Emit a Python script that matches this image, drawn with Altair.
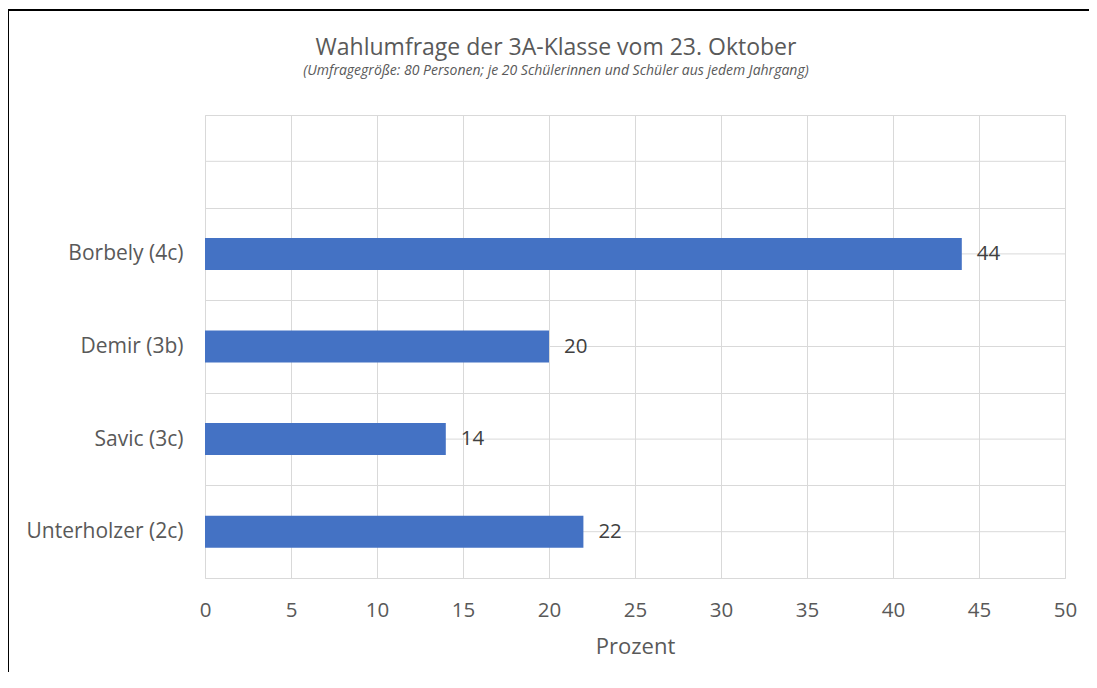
import altair as alt
import pandas as pd

categories = ["Borbely (4c)", "Demir (3b)", "Savic (3c)", "Unterholzer (2c)"]
values = [44, 20, 14, 22]
slots = [" "] + categories  # leading empty category slot at top
x_ticks = [0, 5, 10, 15, 20, 25, 30, 35, 40, 45, 50]

title_text = "Wahlumfrage der 3A-Klasse vom 23. Oktober"
subtitle_text = "(Umfragegröße: 80 Personen; je 20 Schülerinnen und Schüler aus jedem Jahrgang)"

df = pd.DataFrame({"Kandidat": categories, "Prozent": values})
slot_df = pd.DataFrame({"Kandidat": slots})

FONT = "Open Sans"
GRID = "#D9D9D9"

yscale = alt.Scale(domain=slots, paddingInner=0, paddingOuter=0)
xscale = alt.Scale(domain=[0, 50], nice=False)

y_axis = alt.Axis(
    title=None, domain=False, ticks=False, tickSize=0, grid=True, tickBand="extent",
    gridColor=GRID, gridWidth=1, labelFont=FONT, labelFontSize=21,
    labelColor="#595959", labelPadding=22, labelBaseline="middle",
)
x_axis = alt.Axis(
    title="Prozent", values=x_ticks, domain=False, ticks=False, tickSize=0,
    grid=True, gridColor=GRID, gridWidth=1, labelFont=FONT, labelFontSize=20.5,
    labelColor="#595959", labelPadding=22, labelFlush=False, titleFont=FONT,
    titleFontSize=22, titleFontWeight="normal", titleColor="#595959", titlePadding=16,
)

frame = alt.Chart(alt.Data(values=[{"f": 1}])).mark_rect(
    filled=False, stroke="black", strokeWidth=2
).encode(
    x=alt.value(-197), x2=alt.value(1200), y=alt.value(-105), y2=alt.value(800)
)

center_rules = alt.Chart(slot_df).mark_rule(color=GRID, strokeWidth=1).encode(
    y=alt.Y("Kandidat:N", scale=yscale, sort=slots, axis=y_axis)
)

bars = alt.Chart(df).mark_bar(color="#4472C4", size=32).encode(
    y=alt.Y("Kandidat:N", scale=yscale, sort=slots, axis=y_axis),
    x=alt.X("Prozent:Q", scale=xscale, axis=x_axis),
)

labels = alt.Chart(df).mark_text(
    align="left", baseline="middle", dx=15, font=FONT, fontSize=20.5, color="#404040"
).encode(
    y=alt.Y("Kandidat:N", scale=yscale, sort=slots),
    x=alt.X("Prozent:Q", scale=xscale),
    text=alt.Text("Prozent:Q"),
)

chart = alt.layer(center_rules, bars, labels, frame).properties(
    width=860,
    height=463,
    autosize=alt.AutoSizeParams(type="none"),
    padding={"left": 197, "top": 107, "right": 24, "bottom": 94},
    title=alt.TitleParams(
        text=title_text, subtitle=subtitle_text, anchor="middle", frame="group", dx=-79,
        font=FONT, fontSize=23, fontWeight="normal", color="#595959",
        subtitleFont=FONT, subtitleFontSize=14, subtitleFontStyle="italic",
        subtitleColor="#595959", subtitlePadding=4, offset=-69,
    ),
).configure_view(stroke=None).configure(background="white")

chart.save("out.html", embed_options={"renderer": "svg", "actions": False})
